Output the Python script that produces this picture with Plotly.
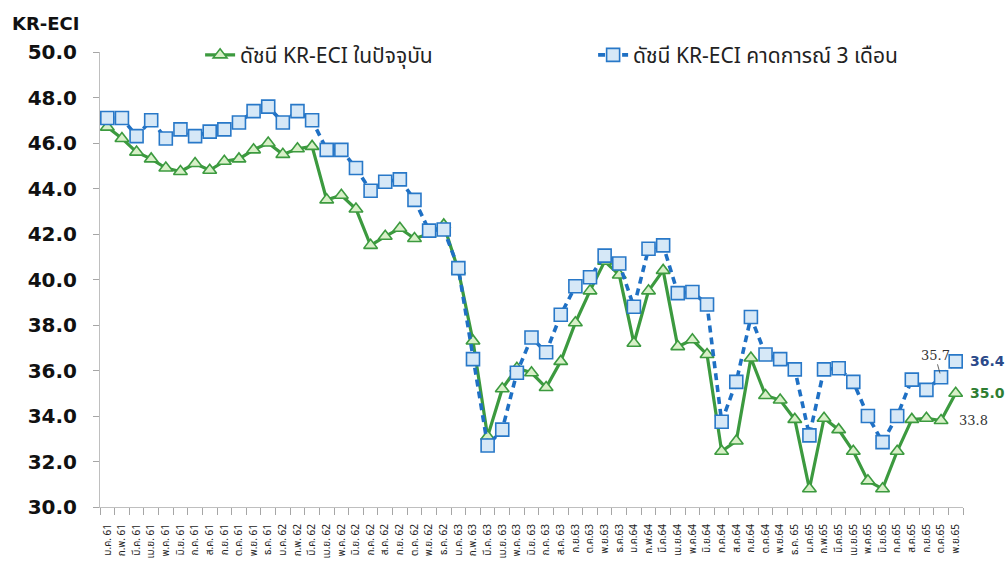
import plotly.graph_objects as go

months = ["ม.ค. 61", "ก.พ. 61", "มี.ค. 61", "เม.ย. 61", "พ.ค. 61", "มิ.ย. 61", "ก.ค. 61", "ส.ค. 61",
          "ก.ย. 61", "ต.ค. 61", "พ.ย. 61", "ธ.ค. 61",
          "ม.ค. 62", "ก.พ. 62", "มี.ค. 62", "เม.ย. 62", "พ.ค. 62", "มิ.ย. 62", "ก.ค. 62", "ส.ค. 62",
          "ก.ย. 62", "ต.ค. 62", "พ.ย. 62", "ธ.ค. 62",
          "ม.ค. 63", "ก.พ. 63", "มี.ค. 63", "เม.ย. 63", "พ.ค. 63", "มิ.ย. 63", "ก.ค. 63", "ส.ค. 63",
          "ก.ย.63", "ต.ค.63", "พ.ย.63", "ธ.ค.63",
          "ม.ค.64", "ก.พ.64", "มี.ค.64", "เม.ย.64", "พ.ค.64", "มิ.ย.64", "ก.ค.64", "ส.ค.64",
          "ก.ย.64", "ต.ค.64", "พ.ย.64", "ธ.ค. 65",
          "ม.ค.65", "ก.พ.65", "มี.ค.65", "เม.ย.65", "พ.ค.65", "มิ.ย.65", "ก.ค.65", "ส.ค.65",
          "ก.ย.65", "ต.ค.65", "พ.ย.65"]

current_index = [46.7, 46.2, 45.6, 45.3, 44.9, 44.75, 45.1, 44.8, 45.2, 45.3, 45.7, 46.0,
                 45.5, 45.75, 45.85, 43.5, 43.7, 43.1, 41.5, 41.9, 42.25, 41.8, 42.0, 42.4,
                 40.4, 37.3, 33.1, 35.2, 36.1, 35.9, 35.25, 36.4, 38.1, 39.5, 40.8, 40.2,
                 37.2, 39.5, 40.4, 37.05, 37.35, 36.7, 32.45, 32.9, 36.55, 34.9, 34.7, 33.85,
                 30.8, 33.9, 33.4, 32.45, 31.15, 30.8, 32.45, 33.85, 33.9, 33.8, 35.0]

forecast_3m = [47.1, 47.1, 46.3, 47.0, 46.2, 46.6, 46.3, 46.5, 46.6, 46.9, 47.4, 47.6,
               46.9, 47.4, 47.0, 45.7, 45.7, 44.9, 43.9, 44.3, 44.4, 43.5, 42.15, 42.2,
               40.5, 36.5, 32.7, 33.4, 35.9, 37.45, 36.8, 38.45, 39.7, 40.1, 41.05, 40.7,
               38.8, 41.35, 41.5, 39.4, 39.45, 38.9, 33.75, 35.5, 38.35, 36.7, 36.5, 36.05,
               33.15, 36.05, 36.1, 35.5, 34.0, 32.85, 34.0, 35.6, 35.15, 35.7, 36.4]

name_current = "ดัชนี KR-ECI ในปัจจุบัน"
name_forecast = "ดัชนี KR-ECI คาดการณ์ 3 เดือน"

FONT = "Noto Sans Thai, Tahoma, Loma, Garuda, DejaVu Sans, sans-serif"

fig = go.Figure()
fig.add_trace(go.Scatter(
    x=months, y=current_index, name=name_current, mode="lines+markers",
    line=dict(color="#3c9a3f", width=3.2),
    marker=dict(symbol="triangle-up", size=12, color="#d8f0c8",
                line=dict(color="#3c9a3f", width=1.6)),
))
fig.add_trace(go.Scatter(
    x=months, y=forecast_3m, name=name_forecast, mode="lines+markers",
    line=dict(color="#1f70c4", width=3.6, dash="7px,5px"),
    marker=dict(symbol="square", size=13, color="#d6e8f7",
                line=dict(color="#2878c8", width=1.6)),
))

# end labels
fig.add_annotation(x=months[-1], y=forecast_3m[-1], text="<b>%.1f</b>" % forecast_3m[-1],
                   showarrow=False, xanchor="left", xshift=12, yshift=0,
                   font=dict(size=14, color="#2b4a8a", family="DejaVu Sans"))
fig.add_annotation(x=months[-1], y=current_index[-1], text="<b>%.1f</b>" % current_index[-1],
                   showarrow=False, xanchor="left", xshift=12, yshift=0,
                   font=dict(size=14, color="#2e7d32", family="DejaVu Sans"))
fig.add_annotation(x=months[-2], y=forecast_3m[-2], text="%.1f" % forecast_3m[-2],
                   showarrow=True, arrowhead=0, arrowwidth=0.8, arrowcolor="#404040",
                   ax=-6, ay=-22, standoff=4,
                   font=dict(size=13, color="#333333", family="DejaVu Serif"))
fig.add_annotation(x=months[-2], y=current_index[-2], text="%.1f" % current_index[-2],
                   showarrow=False, xanchor="left", xshift=16, yshift=0,
                   font=dict(size=13, color="#333333", family="DejaVu Serif"))

fig.add_annotation(xref="paper", yref="paper", x=-0.104, y=1.035, xanchor="left", yanchor="bottom",
                   text="<b>KR-ECI</b>", showarrow=False,
                   font=dict(size=18, color="#111111", family="DejaVu Sans"))

fig.update_layout(
    width=1008, height=569,
    margin=dict(l=100, r=45, t=52, b=62),
    paper_bgcolor="white", plot_bgcolor="white",
    font=dict(family=FONT, color="#222222"),
    showlegend=True,
    legend=dict(orientation="h", x=0.116, y=0.993, xanchor="left", yanchor="middle",
                font=dict(size=21, color="#222222", family=FONT),
                entrywidth=348, entrywidthmode="pixels",
                bgcolor="rgba(0,0,0,0)", itemclick=False),
    xaxis=dict(type="category", tickson="boundaries", ticks="outside", ticklen=7,
               range=[-0.5, len(months) - 0.5],
               tickcolor="#a6a6a6", showline=True, linecolor="#bfbfbf", linewidth=1,
               showgrid=False, tickangle=-90, tickfont=dict(size=10, color="#222222"),
               zeroline=False, automargin=False, ticklabelstandoff=12),
    yaxis=dict(range=[30, 50], dtick=2, tickformat=".1f", ticks="outside", ticklen=6,
               tickcolor="#a6a6a6", showline=True, linecolor="#bfbfbf", linewidth=1,
               showgrid=False, zeroline=False, automargin=False,
               tickfont=dict(size=20, color="#111111", family="DejaVu Sans"),
               tickprefix="<b>", ticksuffix="</b>",
               ticklabelstandoff=12),
)

fig.write_html("out.html", config={"displayModeBar": False},
               post_script="document.body.style.margin='0';document.body.style.overflow='hidden';")
